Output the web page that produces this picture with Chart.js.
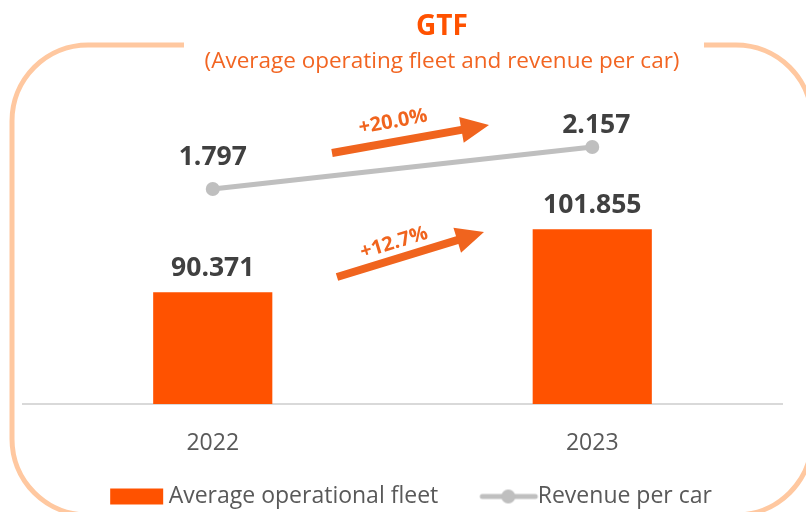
<!DOCTYPE html>
<html>
<head>
<meta charset="utf-8">
<script src="https://cdn.jsdelivr.net/npm/chart.js@4.4.1/dist/chart.umd.min.js"></script>
<style>
  html, body { margin: 0; padding: 0; background: #fff; }
  #wrap { width: 806px; height: 512px; position: relative; }
</style>
</head>
<body>
<div id="wrap"><canvas id="gtfChart" width="806" height="512"></canvas></div>
<script>
const years = ['2022', '2023'];
const fleet = [90.371, 101.855];
const revenuePerCar = [1.797, 2.157];
const fleetLabels = ['90.371', '101.855'];
const revenueLabels = ['1.797', '2.157'];
const growthLabels = ['+20.0%', '+12.7%'];
const titleText = 'GTF';
const subtitleText = '(Average operating fleet and revenue per car)';

const ORANGE = '#FF5200';
const ARROW = '#F0641E';
const GRAY_LINE = '#BFBFBF';
const TEXT_DARK = '#404040';
const TEXT_GRAY = '#595959';
const FONT = "'Open Sans', sans-serif";

// legend swatches (canvas is wider than the legend box so the mark sits close to its text)
function makeSwatch(kind) {
  const c = document.createElement('canvas');
  c.width = 130; c.height = 20;
  const g = c.getContext('2d');
  if (kind === 'bar') {
    g.fillStyle = ORANGE;
    g.fillRect(62, 2, 53, 16);
  } else {
    g.strokeStyle = GRAY_LINE;
    g.lineWidth = 5;
    g.lineCap = 'round';
    g.beginPath(); g.moveTo(65, 10); g.lineTo(118, 10); g.stroke();
    g.fillStyle = GRAY_LINE;
    g.beginPath(); g.arc(91, 10, 7, 0, Math.PI * 2); g.fill();
  }
  return c;
}
const swatches = [makeSwatch('bar'), makeSwatch('line')];

// rounded frame with a gap for the title, plus the title itself
const framePlugin = {
  id: 'frame',
  beforeDraw(chart) {
    const ctx = chart.ctx;
    const L = 12, T = 45, R = 812, B = 515, r = 76;
    ctx.save();
    ctx.strokeStyle = '#FFC8A0';
    ctx.lineWidth = 5;
    ctx.beginPath();
    ctx.moveTo(184, T);
    ctx.lineTo(L + r, T);
    ctx.arcTo(L, T, L, T + r, r);
    ctx.lineTo(L, B - r);
    ctx.arcTo(L, B, L + r, B, r);
    ctx.lineTo(R - r, B);
    ctx.arcTo(R, B, R, B - r, r);
    ctx.lineTo(R, T + r);
    ctx.arcTo(R, T, R - r, T, r);
    ctx.lineTo(704, T);
    ctx.stroke();

    ctx.textAlign = 'center';
    ctx.textBaseline = 'middle';
    ctx.fillStyle = ORANGE;
    ctx.font = "bold 28px " + FONT;
    ctx.fillText(titleText, 442, 27);
    ctx.fillStyle = '#F26522';
    ctx.font = "22.5px " + FONT;
    ctx.fillText(subtitleText, 442, 62);
    ctx.restore();
  }
};

// value labels above bars and points
const valueLabelPlugin = {
  id: 'valueLabels',
  afterDatasetsDraw(chart) {
    const ctx = chart.ctx;
    ctx.save();
    ctx.fillStyle = TEXT_DARK;
    ctx.font = "bold 26.5px " + FONT;
    ctx.textAlign = 'center';
    ctx.textBaseline = 'middle';
    chart.getDatasetMeta(0).data.forEach((bar, i) => {
      ctx.fillText(fleetLabels[i], bar.x, bar.y - 24);
    });
    chart.getDatasetMeta(1).data.forEach((pt, i) => {
      ctx.fillText(revenueLabels[i], pt.x + (i ? 4 : 0), pt.y - (i ? 21 : 31));
    });
    ctx.restore();
  }
};

function drawArrow(ctx, x0, y0, x1, y1, w, hl, hw) {
  const a = Math.atan2(y1 - y0, x1 - x0);
  const len = Math.hypot(x1 - x0, y1 - y0);
  ctx.save();
  ctx.translate(x0, y0);
  ctx.rotate(a);
  ctx.beginPath();
  ctx.moveTo(0, -w / 2);
  ctx.lineTo(len - hl, -w / 2);
  ctx.lineTo(len - hl, -hw);
  ctx.lineTo(len, 0);
  ctx.lineTo(len - hl, hw);
  ctx.lineTo(len - hl, w / 2);
  ctx.lineTo(0, w / 2);
  ctx.closePath();
  ctx.fill();
  ctx.restore();
}

// growth arrows between the two years
const growthPlugin = {
  id: 'growth',
  afterDraw(chart) {
    const ctx = chart.ctx;
    ctx.save();
    ctx.fillStyle = ARROW;
    drawArrow(ctx, 332, 153, 489, 125, 8, 28, 13);
    drawArrow(ctx, 337, 277, 484, 232, 8, 28, 13);
    ctx.font = "bold 20px " + FONT;
    ctx.textAlign = 'center';
    ctx.textBaseline = 'middle';
    [[393, 122, -10.5], [394, 243, -17]].forEach(([x, y, deg], i) => {
      ctx.save();
      ctx.translate(x, y);
      ctx.rotate(deg * Math.PI / 180);
      ctx.fillText(growthLabels[i], 0, 0);
      ctx.restore();
    });
    ctx.restore();
  }
};

new Chart(document.getElementById('gtfChart'), {
  type: 'bar',
  data: {
    labels: years,
    datasets: [
      {
        type: 'bar',
        label: 'Average operational fleet',
        data: fleet,
        backgroundColor: ORANGE,
        categoryPercentage: 1,
        barPercentage: 0.314,
        yAxisID: 'y',
        order: 2
      },
      {
        type: 'line',
        label: 'Revenue per car',
        data: revenuePerCar,
        borderColor: GRAY_LINE,
        backgroundColor: GRAY_LINE,
        borderWidth: 5,
        pointRadius: 7,
        pointBackgroundColor: GRAY_LINE,
        pointBorderWidth: 0,
        yAxisID: 'y1',
        order: 1
      }
    ]
  },
  options: {
    responsive: false,
    animation: false,
    layout: { padding: { left: 23, right: 24, top: 83, bottom: -6 } },
    scales: {
      x: {
        grid: { display: false },
        border: { color: '#D9D9D9', width: 2 },
        ticks: { color: TEXT_GRAY, font: { family: FONT, size: 23 }, padding: 18 },
        afterFit(scale) { scale.height = 81; }
      },
      y: { display: false, min: 70, max: 128.5 },
      y1: { display: false, min: -0.046, max: 2.705 }
    },
    plugins: {
      title: { display: false },
      legend: {
        position: 'bottom',
        labels: {
          color: TEXT_GRAY,
          font: { family: FONT, size: 23 },
          usePointStyle: true,
          pointStyleWidth: 88,
          padding: 0,
          sort: (a, b) => a.datasetIndex - b.datasetIndex,
          generateLabels(chart) {
            const items = Chart.defaults.plugins.legend.labels.generateLabels(chart);
            items.forEach(it => {
              it.pointStyle = swatches[it.datasetIndex];
              it.fontColor = TEXT_GRAY;
              // trailing room keeps the legend row where the original sits
              if (it.datasetIndex === 1) it.text += '    ';
            });
            return items;
          }
        }
      },
      tooltip: { enabled: false }
    }
  },
  plugins: [framePlugin, valueLabelPlugin, growthPlugin]
});
</script>
</body>
</html>
